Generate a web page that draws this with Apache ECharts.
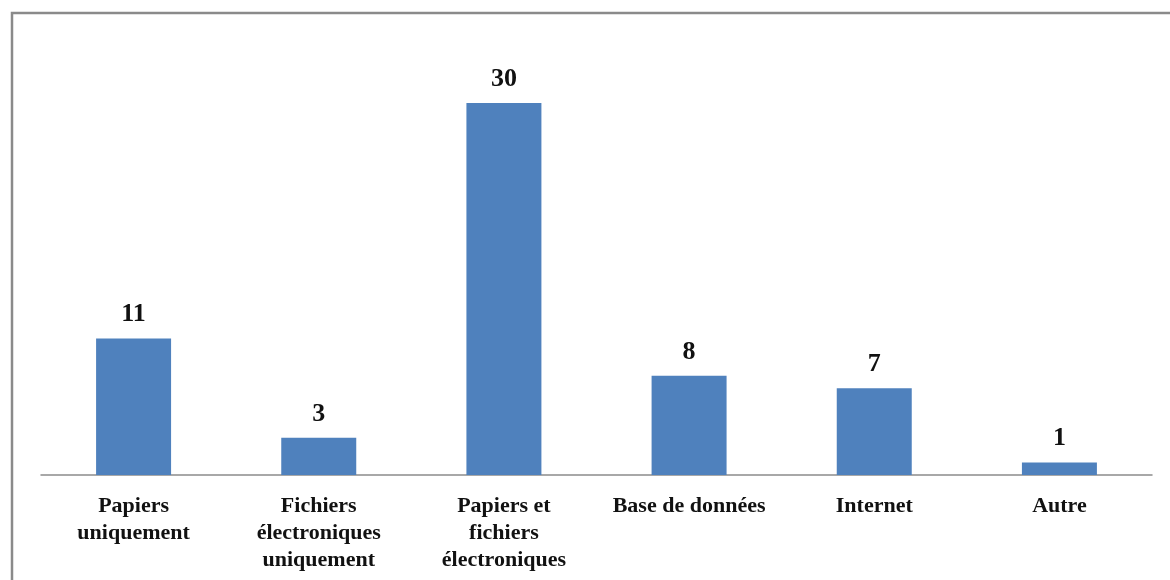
<!DOCTYPE html>
<html>
<head>
<meta charset="utf-8">
<script src="https://cdn.jsdelivr.net/npm/echarts@6/dist/echarts.min.js"></script>
<style>
html,body{margin:0;padding:0;background:#fff;}
#main{width:1170px;height:580px;}
</style>
</head>
<body>
<div id="main"></div>
<script>
const categories = ["Papiers\nuniquement", "Fichiers\nélectroniques\nuniquement", "Papiers et\nfichiers\nélectroniques", "Base de données", "Internet", "Autre"];
const values = [11, 3, 30, 8, 7, 1];

const chart = echarts.init(document.getElementById('main'));
chart.setOption({
  animation: false,
  backgroundColor: '#ffffff',
  graphic: [{
    type: 'rect',
    shape: { x: 12, y: 13, width: 1300, height: 700 },
    style: { fill: 'none', stroke: '#8a8a8a', lineWidth: 2.5 },
    silent: true
  }],
  grid: { left: 41, right: 18, top: 103, bottom: 105 },
  xAxis: {
    type: 'category',
    data: categories,
    axisLine: { show: true, lineStyle: { color: '#8c8c8c', width: 1.5 } },
    axisTick: { show: false },
    axisLabel: {
      interval: 0,
      margin: 18,
      color: '#111',
      fontFamily: '"Liberation Serif", "Times New Roman", serif',
      fontWeight: 'bold',
      fontSize: 22,
      lineHeight: 27
    }
  },
  yAxis: {
    type: 'value',
    min: 0,
    max: 30,
    show: false,
    splitLine: { show: false }
  },
  series: [{
    type: 'bar',
    data: values,
    barWidth: '40.5%',
    itemStyle: { color: '#4F81BD' },
    label: {
      show: true,
      position: 'top',
      distance: 11,
      color: '#111',
      fontFamily: '"Liberation Serif", "Times New Roman", serif',
      fontWeight: 'bold',
      fontSize: 26
    }
  }]
});
</script>
</body>
</html>
